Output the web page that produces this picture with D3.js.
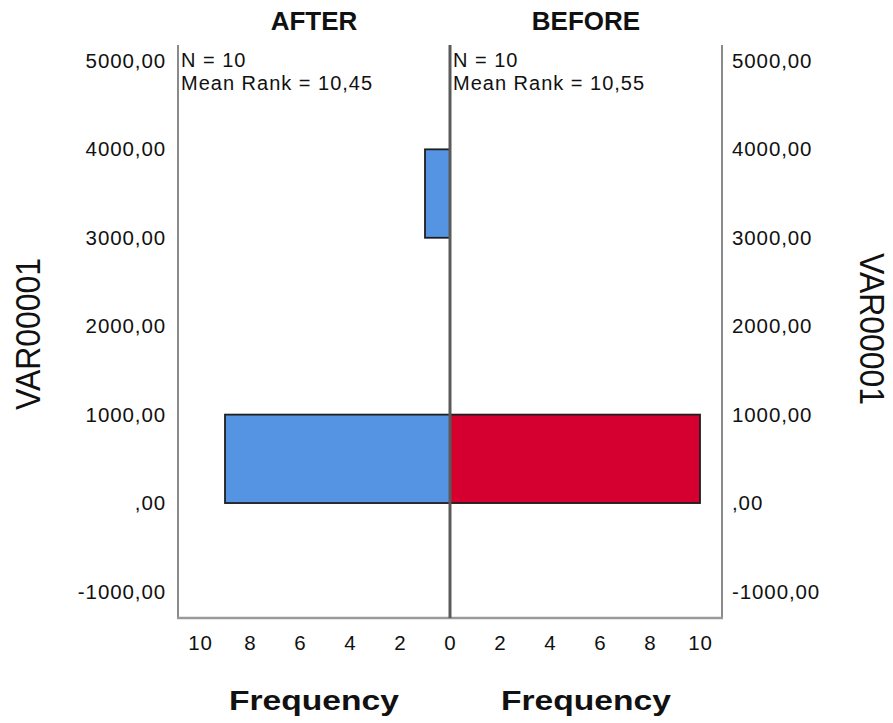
<!DOCTYPE html>
<html>
<head>
<meta charset="utf-8">
<script src="https://cdn.jsdelivr.net/npm/d3@7"></script>
<style>
  body { margin: 0; background: #fff; }
  text { font-family: "Liberation Sans", Arial, sans-serif; fill: #111; }
</style>
</head>
<body>
<div id="chart"></div>
<script>
"use strict";

// histogram bins (lower / upper edge of each bin)
const binLower = [0, 1000, 2000, 3000];
const binUpper = [1000, 2000, 3000, 4000];
const afterFreq = [9, 0, 0, 1];
const beforeFreq = [10, 0, 0, 0];

const yTicks = [-1000, 0, 1000, 2000, 3000, 4000, 5000];
const xTicks = [0, 2, 4, 6, 8, 10];

const groups = ["AFTER", "BEFORE"];
const statsN = [10, 10];
const statsRank = ["10,45", "10,55"];

const W = 893, H = 723;
const plotLeft = 178, plotMid = 450, plotRight = 722, plotTop = 45, plotBottom = 618;

const svg = d3.select("#chart").append("svg")
    .attr("width", W)
    .attr("height", H);

const y = d3.scaleLinear().domain([-1300, 5180]).range([plotBottom, plotTop]);
const xL = d3.scaleLinear().domain([0, 10.88]).range([plotMid, plotLeft]);
const xR = d3.scaleLinear().domain([0, 10.88]).range([plotMid, plotRight]);

const fmt = v => v === 0 ? ",00" : v + ",00";

// frame lines
svg.append("line").attr("x1", plotLeft).attr("x2", plotLeft).attr("y1", plotTop).attr("y2", plotBottom)
    .attr("stroke", "#8a8a8a").attr("stroke-width", 2);
svg.append("line").attr("x1", plotRight).attr("x2", plotRight).attr("y1", plotTop).attr("y2", plotBottom)
    .attr("stroke", "#8a8a8a").attr("stroke-width", 2);
svg.append("line").attr("x1", plotLeft - 1).attr("x2", plotRight + 1).attr("y1", plotBottom).attr("y2", plotBottom)
    .attr("stroke", "#9a9a9a").attr("stroke-width", 2.5);

// bars
const bins = binLower.map((d, i) => ({lo: d, hi: binUpper[i], a: afterFreq[i], b: beforeFreq[i]}));

svg.append("g").selectAll("rect")
    .data(bins.filter(d => d.a > 0))
    .enter().append("rect")
    .attr("x", d => xL(d.a))
    .attr("y", d => y(d.hi))
    .attr("width", d => xL(0) - xL(d.a))
    .attr("height", d => y(d.lo) - y(d.hi))
    .attr("fill", "#5594e3")
    .attr("stroke", "#1e1e1e")
    .attr("stroke-width", 1.8);

svg.append("g").selectAll("rect")
    .data(bins.filter(d => d.b > 0))
    .enter().append("rect")
    .attr("x", xR(0))
    .attr("y", d => y(d.hi))
    .attr("width", d => xR(d.b) - xR(0))
    .attr("height", d => y(d.lo) - y(d.hi))
    .attr("fill", "#d5002f")
    .attr("stroke", "#1e1e1e")
    .attr("stroke-width", 1.8);

// centre line
svg.append("line").attr("x1", plotMid).attr("x2", plotMid).attr("y1", plotTop).attr("y2", plotBottom)
    .attr("stroke", "#5a5a5a").attr("stroke-width", 3);

// y axes (labels only)
const yAxisL = d3.axisLeft(y).tickValues(yTicks).tickFormat(fmt).tickSize(0).tickPadding(12);
const yAxisR = d3.axisRight(y).tickValues(yTicks).tickFormat(fmt).tickSize(0).tickPadding(10);

const gyl = svg.append("g").attr("transform", `translate(${plotLeft},0)`).call(yAxisL);
const gyr = svg.append("g").attr("transform", `translate(${plotRight},0)`).call(yAxisR);

// x axes
const gxl = svg.append("g").attr("transform", `translate(0,${plotBottom})`)
    .call(d3.axisBottom(xL).tickValues(xTicks).tickSize(0).tickPadding(17));
const gxr = svg.append("g").attr("transform", `translate(0,${plotBottom})`)
    .call(d3.axisBottom(xR).tickValues(xTicks.filter(d => d > 0)).tickSize(0).tickPadding(17));

[gyl, gyr, gxl, gxr].forEach(g => {
    g.select(".domain").remove();
    g.selectAll("text")
        .style("font-family", "'Liberation Sans', Arial, sans-serif")
        .style("font-size", "20.5px")
        .style("letter-spacing", "0.9px")
        .attr("fill", "#111");
});

// panel titles, stats, axis titles
const centers = [(plotLeft + plotMid) / 2, (plotMid + plotRight) / 2];
const starts = [plotLeft + 3, plotMid + 3];

groups.forEach((g, i) => {
    svg.append("text")
        .attr("x", centers[i])
        .attr("y", 30)
        .attr("text-anchor", "middle")
        .style("font-size", "26px")
        .style("font-weight", "bold")
        .text(g);

    svg.append("text")
        .attr("x", starts[i])
        .attr("y", 67)
        .style("font-size", "20px")
        .style("letter-spacing", "1px")
        .text("N = " + statsN[i]);

    svg.append("text")
        .attr("x", starts[i])
        .attr("y", 90)
        .style("font-size", "20px")
        .style("letter-spacing", "1px")
        .text("Mean Rank = " + statsRank[i]);

    svg.append("text")
        .attr("x", centers[i])
        .attr("y", 710)
        .attr("text-anchor", "middle")
        .attr("textLength", 170)
        .attr("lengthAdjust", "spacingAndGlyphs")
        .style("font-size", "28px")
        .style("font-weight", "bold")
        .text("Frequency");
});

svg.append("text")
    .attr("transform", "translate(40,334) rotate(-90)")
    .attr("text-anchor", "middle")
    .attr("textLength", 152)
    .attr("lengthAdjust", "spacingAndGlyphs")
    .style("font-size", "35px")
    .text("VAR00001");

svg.append("text")
    .attr("transform", "translate(860,329) rotate(90)")
    .attr("text-anchor", "middle")
    .attr("textLength", 152)
    .attr("lengthAdjust", "spacingAndGlyphs")
    .style("font-size", "35px")
    .text("VAR00001");
</script>
</body>
</html>
